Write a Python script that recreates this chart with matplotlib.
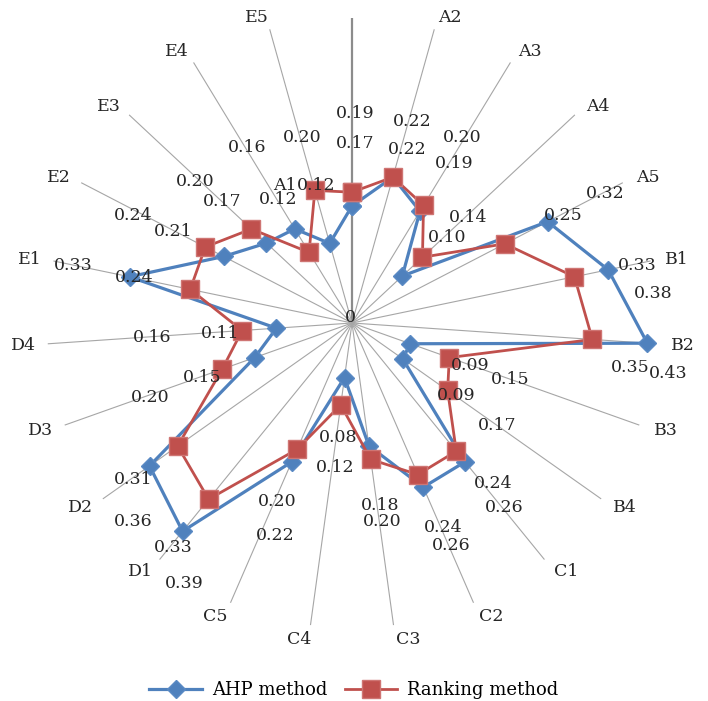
import numpy as np
import matplotlib
matplotlib.use("Agg")
import matplotlib.pyplot as plt
from matplotlib.lines import Line2D

# ---- data ----
categories = ['A1', 'A2', 'A3', 'A4', 'A5', 'B1', 'B2', 'B3', 'B4',
              'C1', 'C2', 'C3', 'C4', 'C5', 'D1', 'D2', 'D3', 'D4',
              'E1', 'E2', 'E3', 'E4', 'E5']
ahp = [0.17, 0.22, 0.19, 0.10, 0.32, 0.38, 0.43, 0.09, 0.09,
       0.26, 0.26, 0.18, 0.08, 0.22, 0.39, 0.36, 0.15, 0.11,
       0.33, 0.21, 0.17, 0.16, 0.12]
ranking = [0.19, 0.22, 0.20, 0.14, 0.25, 0.33, 0.35, 0.15, 0.17,
           0.24, 0.24, 0.20, 0.12, 0.20, 0.33, 0.31, 0.20, 0.16,
           0.24, 0.24, 0.20, 0.12, 0.20]
series_names = ['AHP method', 'Ranking method']

# ---- layout (label centres in image pixels, origin top-left) ----
ahp_label_xy = [(355, 144), (407, 149), (454, 163), (447, 237), (605, 193),
                (653, 293), (668, 373), (470, 365), (456, 396), (504, 507),
                (451, 546), (380, 506), (338, 438), (275, 536), (184, 583),
                (133, 522), (202, 378), (220, 333), (73, 265), (173, 231),
                (222, 202), (247, 148), (316, 186)]
rank_label_xy = [(355, 114), (412, 122), (462, 138), (468, 218), (563, 216),
                 (637, 265), (630, 367), (510, 379), (497, 426), (493, 484),
                 (443, 527), (382, 522), (335, 468), (277, 502), (173, 547),
                 (133, 480), (150, 397), (152, 337), (134, 278), (133, 216),
                 (195, 182), (278, 199), (302, 137)]

W, H = 708, 701
CX, CY = 352, 323          # centre in image pixels
R = 305                    # spoke length in pixels
RMAX = 0.443

FONT = 'DejaVu Serif'
FS = 12.5
TXT = '#262626'
plt.rcParams['font.family'] = FONT

fig = plt.figure(figsize=(W / 100, H / 100), dpi=100)
ax = fig.add_axes([(CX - R) / W, (H - CY - R) / H, 2 * R / W, 2 * R / H],
                  projection='polar')
ax.set_theta_zero_location('N')
ax.set_theta_direction(-1)
ax.set_ylim(0, RMAX)
ax.grid(False)
ax.set_xticks([])
ax.set_yticks([])
ax.spines['polar'].set_visible(False)
ax.patch.set_alpha(0)

n = len(categories)
theta = np.arange(n) * 2 * np.pi / n

# spokes
for i, t in enumerate(theta):
    if i == 0:
        ax.plot([t, t], [0, RMAX], color='#8c8c8c', lw=1.6, zorder=1)
    else:
        ax.plot([t, t], [0, RMAX], color='#a6a6a6', lw=0.8, zorder=1)

blue = '#4F81BD'
red = '#C0504D'
tc = np.append(theta, theta[0])
ax.plot(tc, np.append(ahp, ahp[0]), color=blue, lw=2.3, marker='D', ms=9,
        mfc=blue, mec='#5a8ac4', zorder=3, clip_on=False)
ax.plot(tc, np.append(ranking, ranking[0]), color=red, lw=2.0, marker='s', ms=12.5,
        mfc=red, mec='#cf7573', zorder=4, clip_on=False)

# centre "0"
ax.annotate('0', xy=(0, 0), xytext=(350, H - 318), textcoords='figure pixels',
            ha='center', va='center', fontsize=FS, color=TXT, zorder=5)

# category labels
for i, (t, c) in enumerate(zip(theta, categories)):
    if i == 0:
        ax.annotate(c, xy=(t, RMAX), xytext=(285, H - 186), textcoords='figure pixels',
                    ha='center', va='center', fontsize=FS, color=TXT)
        continue
    s = np.sin(t)
    co = np.cos(t)
    ha = 'left' if s > 0 else 'right'
    dx = 15 * s + (3 if s < 0 else 0)
    dy = 13.5 * co - 1
    ax.annotate(c, xy=(t, RMAX), xytext=(dx, dy), textcoords='offset pixels',
                ha=ha, va='center', fontsize=FS, color=TXT,
                annotation_clip=False)

# data labels
for t, v, (x, y) in zip(theta, ahp, ahp_label_xy):
    ax.annotate(f'{v:.2f}', xy=(t, v), xytext=(x, H - y), textcoords='figure pixels',
                ha='center', va='center', fontsize=FS, color=TXT,
                annotation_clip=False, zorder=6)
for t, v, (x, y) in zip(theta, ranking, rank_label_xy):
    ax.annotate(f'{v:.2f}', xy=(t, v), xytext=(x, H - y), textcoords='figure pixels',
                ha='center', va='center', fontsize=FS, color=TXT,
                annotation_clip=False, zorder=6)

handles = [Line2D([], [], color=blue, lw=2.3, marker='D', ms=9, mfc=blue, mec='#5a8ac4'),
           Line2D([], [], color=red, lw=2.0, marker='s', ms=12.5, mfc=red, mec='#cf7573')]
fig.legend(handles, series_names, loc='center', bbox_to_anchor=(0.5, 1 - 690 / H),
           ncol=2, frameon=False, fontsize=13, handlelength=2.9, columnspacing=1.0,
           handletextpad=0.55)

fig.savefig('out.png', dpi=100)
